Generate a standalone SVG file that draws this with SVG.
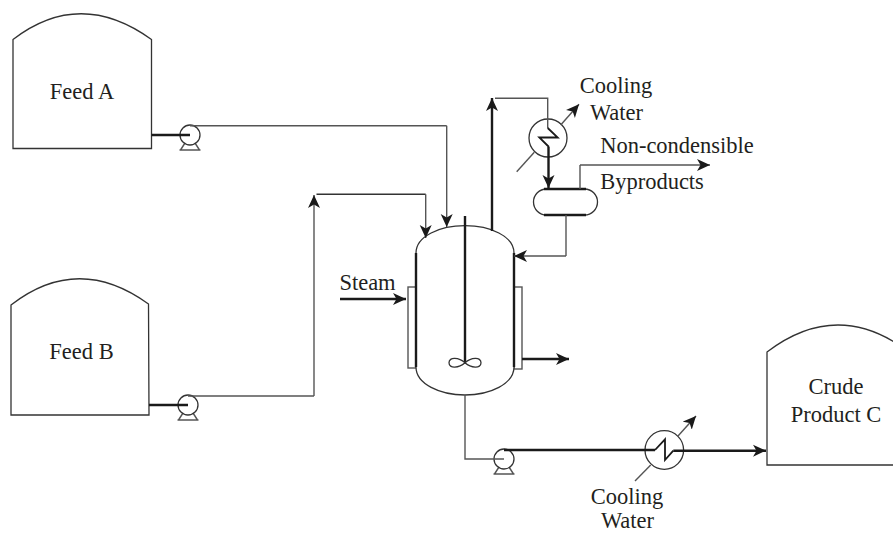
<svg xmlns="http://www.w3.org/2000/svg" width="893" height="533" viewBox="0 0 893 533">
<style>
text{font-family:"Liberation Serif","Times New Roman",serif;font-size:22.500px;fill:#231f20;text-anchor:middle}
.e{fill:#fff;stroke:#333;stroke-width:1.3}
.t{fill:none;stroke:#555;stroke-width:1.4}
.k{fill:none;stroke:#1a1a1a;stroke-width:2.4}
.a{fill:#1a1a1a;stroke:none}
</style>
<defs>
<marker id="ah" markerUnits="userSpaceOnUse" markerWidth="14" markerHeight="13" refX="13" refY="6.500" orient="auto"><path class="a" d="M0 0.500L13 6.500L0 12.500L3.500 6.500Z"/></marker>
<g id="pump"><path class="t" d="M-5 8L-9.500 15M5 8L9.500 15M-10.500 15H10.500"/><circle class="e" r="10"/></g>
</defs>
<rect width="893" height="533" fill="#fff"/>
<g id="feed-a"><path class="e" d="M13 148.500V39.500Q80 -12 151.500 39.500V148.500Z"/><text x="82" y="99">Feed A</text></g>
<g id="feed-b"><path class="e" d="M11 415V305Q78 253 148.500 304L149 415Z"/><text x="81.500" y="359">Feed B</text></g>
<g id="crude-product-c"><path class="e" d="M767 465V352Q838 298 909 352V465Z"/><text x="836" y="394">Crude</text><text x="836" y="422">Product C</text></g>
<g id="reactor">
<rect class="t" x="408" y="287" width="8" height="81"/><rect class="t" x="514" y="287" width="8" height="82"/>
<path class="e" d="M416 253C416 236 440 225.700 465 225.700C490 225.700 514 236 514 253V367C514 384 490 395 465 395C440 395 416 384 416 367Z"/>
<path class="k" d="M416 253V367M514 253V367M465 216V362"/>
<path class="e" style="fill:none" d="M465 362.700C459 357.500 449 356.500 449 362.700C449 369 459 368 465 362.700C471 357.500 481 356.500 481 362.700C481 369 471 368 465 362.700Z"/>
</g>
<g id="condenser"><circle class="e" cx="548" cy="138" r="19"/></g>
<g id="drum"><rect class="e" x="533.500" y="189" width="64" height="26" rx="13"/><path class="k" d="M544 189H586M544 215H586"/></g>
<g id="pump-a"><use href="#pump" x="190" y="135"/></g>
<g id="pump-b"><use href="#pump" x="188" y="405"/></g>
<g id="pump-c"><use href="#pump" x="504" y="459"/></g>
<g id="cooler"><circle class="e" cx="664.300" cy="450" r="19.300"/></g>
<g id="connectors">
<path class="k" d="M151.500 135H190M149 405H188"/>
<path class="t" d="M190 125.700H446.700"/><path class="t" d="M446.700 125.700V227" marker-end="url(#ah)"/>
<path class="t" d="M188 396H314"/><path class="t" d="M314 396V195" marker-end="url(#ah)"/>
<path class="t" style="stroke:#333" d="M316.500 194.300H425.700"/><path class="t" d="M425.700 194.300V238" marker-end="url(#ah)"/>
<path class="k" d="M492 231V98" marker-end="url(#ah)"/>
<path class="t" d="M495 98.300H547.700V128"/>
<path class="t" style="stroke:#1a1a1a;stroke-width:1.800" d="M547.700 128L557.700 137.500H539.300L549 147"/>
<path class="k" d="M548.500 147V188" marker-end="url(#ah)"/>
<path class="t" d="M516.700 171.700L534.300 152.300"/><path class="t" d="M560.700 125L579 104.300" marker-end="url(#ah)"/>
<path class="t" d="M580 189V165"/><path class="t" d="M580 165H710" marker-end="url(#ah)"/>
<path class="t" d="M566 215V256"/><path class="t" d="M566 256H514" marker-end="url(#ah)"/>
<path class="k" d="M340 299H406" marker-end="url(#ah)"/>
<path class="k" d="M522 359H569" marker-end="url(#ah)"/>
<path class="t" d="M465 395V459H504"/>
<path class="k" d="M504 450H655"/>
<path class="t" style="stroke:#1a1a1a;stroke-width:1.800" d="M655 450L665 439.300V460L673.300 450.700"/>
<path class="k" d="M673.300 450.700H766" marker-end="url(#ah)"/>
<path class="t" d="M635 481L650.700 465"/><path class="t" d="M678 436L696 416" marker-end="url(#ah)"/>
</g>
<g id="labels">
<text x="616" y="93">Cooling</text><text x="616.500" y="120">Water</text>
<text x="677" y="153">Non-condensible</text><text x="652" y="189">Byproducts</text>
<text x="367.500" y="290">Steam</text>
<text x="627" y="504">Cooling</text><text x="627.500" y="528">Water</text>
</g>
</svg>
